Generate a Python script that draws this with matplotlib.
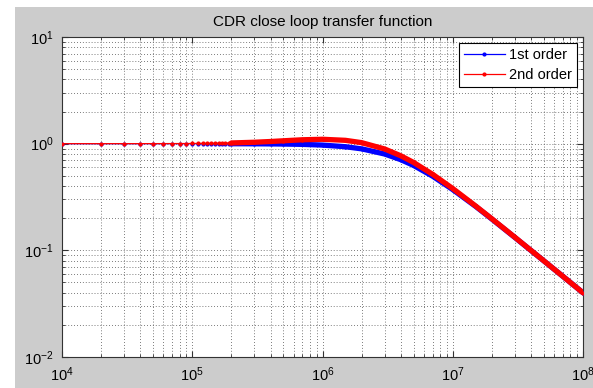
import matplotlib
matplotlib.use('Agg')
import matplotlib.pyplot as plt
from matplotlib.patches import Rectangle
from matplotlib.ticker import LogLocator, NullFormatter

plt.rcParams['font.family'] = ['Liberation Sans', 'DejaVu Sans']
plt.rcParams['mathtext.default'] = 'regular'

# low end of the sweep, 10 kHz steps (Hz)
freq_low = [1e4, 2e4, 3e4, 4e4, 5e4, 6e4, 7e4, 8e4, 9e4, 1e5,
            1.1e5, 1.2e5, 1.3e5, 1.4e5, 1.5e5, 1.6e5, 1.7e5, 1.8e5, 1.9e5, 2e5]
first_low = [1.0, 1.0, 1.0, 1.0, 0.9999, 0.9999, 0.9998, 0.9998, 0.9997, 0.9997,
             0.9996, 0.9995, 0.9995, 0.9994, 0.9993, 0.9992, 0.9991, 0.9990, 0.9989, 0.9988]
second_low = [1.0, 1.0002, 1.0004, 1.0007, 1.0011, 1.0015, 1.0021, 1.0027, 1.0034, 1.0042,
              1.0050, 1.0059, 1.0068, 1.0078, 1.0090, 1.0101, 1.0114, 1.0127, 1.0140, 1.0154]

# upper part of the sweep where the points pile up into a solid band
freq_high = [2e5, 3e5, 4e5, 5e5, 7e5, 1e6, 1.5e6, 2e6, 3e6, 4e6,
             5e6, 7e6, 1e7, 1.5e7, 2e7, 3e7, 5e7, 7e7, 1e8]
first_high = [0.9988, 0.9972, 0.995, 0.992, 0.985, 0.970, 0.936, 0.894, 0.800, 0.707,
              0.625, 0.496, 0.371, 0.258, 0.196, 0.132, 0.0797, 0.0571, 0.040]
second_high = [1.0154, 1.031, 1.048, 1.064, 1.0877, 1.0995, 1.0748, 1.0217, 0.892, 0.769,
               0.667, 0.5165, 0.3797, 0.2603, 0.1973, 0.1325, 0.0798, 0.0571, 0.040]

fig = plt.figure(figsize=(5.93, 3.88), dpi=100, facecolor='white')
fig.patches.append(Rectangle((15 / 593, 0), 1, 381 / 388, transform=fig.transFigure,
                             facecolor='#cccccc', edgecolor='none', zorder=-1))
ax = fig.add_axes([62 / 593, 31 / 388, 521 / 593, 320 / 388])
ax.set_facecolor('white')

series = [('1st order', 'b', freq_low, first_low, freq_high, first_high),
          ('2nd order', 'r', freq_low, second_low, freq_high, second_high)]
handles = []
for label, col, f_lo, g_lo, f_hi, g_hi in series:
    h, = ax.plot(f_lo + f_hi[1:], g_lo + g_hi[1:], '.-', color=col, lw=0.9, ms=4,
                 label=label, zorder=3)
    ax.plot(f_hi, g_hi, '-', color=col, lw=3.8, solid_capstyle='round', zorder=3)
    handles.append(h)

ax.set_xscale('log')
ax.set_yscale('log')
ax.set_xlim(1e4, 1e8)
ax.set_ylim(1e-2, 1e1)
ax.xaxis.set_minor_locator(LogLocator(subs=range(2, 10)))
ax.yaxis.set_minor_locator(LogLocator(subs=range(2, 10)))
ax.xaxis.set_minor_formatter(NullFormatter())
ax.yaxis.set_minor_formatter(NullFormatter())

ax.grid(True, which='both', linestyle=(0, (1, 2.5)), color='#505050', linewidth=0.6)
ax.set_axisbelow(True)
ax.tick_params(which='both', direction='in', top=True, right=True, colors='#333333',
               labelcolor='black', labelsize=10.5)
ax.tick_params(which='major', length=4, pad=6)
ax.tick_params(which='minor', length=2.2)
for sp in ax.spines.values():
    sp.set_color('#333333')
    sp.set_linewidth(0.8)

ax.set_title('CDR close loop transfer function', fontsize=11, pad=8)

leg = ax.legend(handles=handles, loc='upper right', fontsize=10.5, handlelength=2.8,
                numpoints=1, fancybox=False, edgecolor='black', framealpha=1,
                borderpad=0.35, labelspacing=0.4, handletextpad=0.3, borderaxespad=0.4)
leg.get_frame().set_linewidth(0.8)

fig.savefig('out.png', dpi=100, facecolor=fig.get_facecolor())
